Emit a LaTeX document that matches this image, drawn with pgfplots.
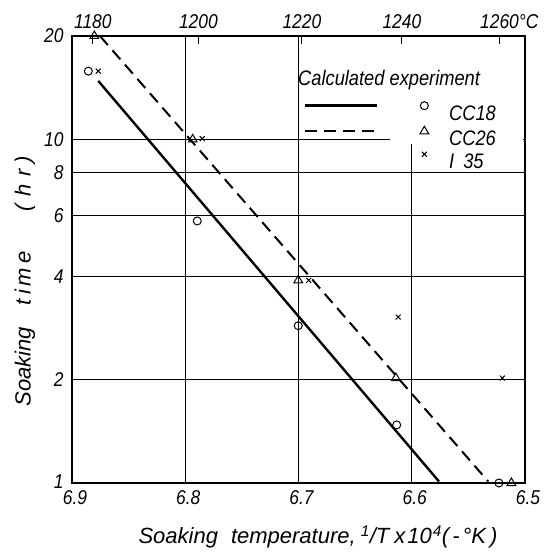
\documentclass[border=0pt]{standalone}
\usepackage{fontspec}
\setmainfont{Liberation Sans}[FakeStretch=0.87]
\newfontfamily\labfont{Liberation Sans}
\usepackage{pgfplots}
\pgfplotsset{compat=1.18}
\pgfplotsset{
  linelegend/.style={legend image code/.code={\draw[##1] (0bp,8bp) -- (72bp,8bp);}},
  marklegend/.style={legend image code/.code={\draw[##1] plot coordinates {(0bp,8bp)};}},
}
\begin{document}
\begin{tikzpicture}[font=\fontsize{21bp}{24bp}\selectfont\itshape]
\begin{axis}[
  name=ax,
  at={(0,0)}, anchor=south west,
  scale only axis,
  width=453bp, height=447bp,
  xmin=6.5, xmax=6.9, x dir=reverse,
  ymode=log, ymin=1, ymax=20,
  xtick={6.9,6.8,6.7,6.6,6.5},
  xticklabels={6.9,6.8,6.7,6.6,6.5},
  ytick={1,2,4,6,8,10,20},
  yticklabels={\raisebox{3bp}{1},2,4,6,8,10,20},
  grid=major,
  grid style={black, line width=1bp},
  axis line style={line width=1.6bp},
  major tick length=0pt,
  tick label style={font=\fontsize{20bp}{23bp}\selectfont\itshape},
  yticklabel style={xshift=-5bp},
  xticklabel style={yshift=-4bp, xshift=3bp},
  /pgf/number format/assume math mode=true,
  clip=false,
  xlabel={\labfont\fontsize{22bp}{25bp}\selectfont\itshape Soaking\hspace{13bp}temperature,\hspace{5bp}\textsuperscript{1}/T\hspace{5bp}x\hspace{2bp}10\textsuperscript{\hspace{1bp}4}(\hspace{3bp}-\hspace{3bp}°K\hspace{4bp})},
  xlabel style={at={(axis description cs:0.543,-0.121)}, anchor=center},
  ylabel={\labfont\fontsize{22bp}{25bp}\selectfont\itshape Soaking\hspace{22bp}t\hspace{4bp}i\hspace{4bp}m\hspace{4bp}e\hspace{40bp}(\hspace{8bp}h\hspace{7bp}r\hspace{6bp})},
  ylabel style={at={(axis description cs:-0.104,0.451)}, anchor=center},
  legend columns=2,
  legend style={draw=none, fill=none, at={(axis description cs:0.512,0.8535)}, anchor=north west,
    inner sep=0pt, row sep=3bp, nodes={inner sep=1.5bp},
    /tikz/every odd column/.append style={column sep=19bp},
    /tikz/every even column/.append style={column sep=19.5bp}},
  legend cell align=left,
]
% white patch where the legend hides the grid
\fill[white] (axis cs:6.6192,9.67) rectangle (axis cs:6.502,19.9);

% calculated lines
\addplot[forget plot, black, line width=2.4bp, no marks] coordinates {(6.8768,14.8) (6.5759,1.01)};
\addplot[forget plot, black, line width=2bp, dash pattern=on 12bp off 7bp, no marks] coordinates {(6.8753,20) (6.5324,1.01)};

% experiments
\addplot[forget plot, only marks, mark=o, mark size=4bp, black, line width=1bp] coordinates {
 (6.8856,15.8) (6.7894,5.79) (6.7002,2.87) (6.6133,1.476) (6.523,1.0)};
\addplot[forget plot, only marks, mark=triangle, mark size=5bp, black, line width=1bp] coordinates {
 (6.8803,20) (6.7934,10.0) (6.7002,3.89) (6.614,2.02) (6.512,1.0)};
\addplot[forget plot, only marks, mark=x, mark size=3.5bp, black, line width=1bp] coordinates {
 (6.8768,15.8) (6.785,10.05) (6.691,3.89) (6.612,3.04) (6.520,2.02)};

\addlegendimage{linelegend, black, line width=2.4bp}
\addlegendentry{}
\addlegendimage{marklegend, only marks, mark=o, mark size=4bp, black, line width=1bp}
\addlegendentry{CC18}
\addlegendimage{linelegend, black, line width=2bp, dash pattern=on 12bp off 7bp}
\addlegendentry{}
\addlegendimage{marklegend, only marks, mark=triangle, mark size=5bp, black, line width=1bp}
\addlegendentry{CC26}
\addlegendimage{empty legend}
\addlegendentry{}
\addlegendimage{marklegend, only marks, mark=x, mark size=3.5bp, black, line width=1bp}
\addlegendentry{I\hspace{9bp}35}

\node[anchor=west, inner sep=0pt] at (axis description cs:0.499,0.9016) {Calculated experiment};
\end{axis}
\begin{axis}[
  at={(0,0)}, anchor=south west,
  scale only axis,
  width=453bp, height=447bp,
  xmin=6.5, xmax=6.9, x dir=reverse,
  ymin=0, ymax=1,
  axis x line*=top, axis y line=none,
  axis line style={line width=1.6bp},
  xtick={6.8816,6.7884,6.6970,6.6087,6.5225},
  xticklabels={1180,1200,1220,1240,1260\rlap{°C}},
  tick align=inside, major tick length=8bp,
  x tick style={line width=1bp, black},
  tick label style={font=\fontsize{20bp}{23bp}\selectfont\itshape},
  xticklabel style={yshift=4bp},
]
\end{axis}
\pgfresetboundingbox
\path ([shift={(-72bp,-69bp)}]ax.south west) rectangle ([shift={(23bp,36bp)}]ax.north east);
\end{tikzpicture}
\end{document}
